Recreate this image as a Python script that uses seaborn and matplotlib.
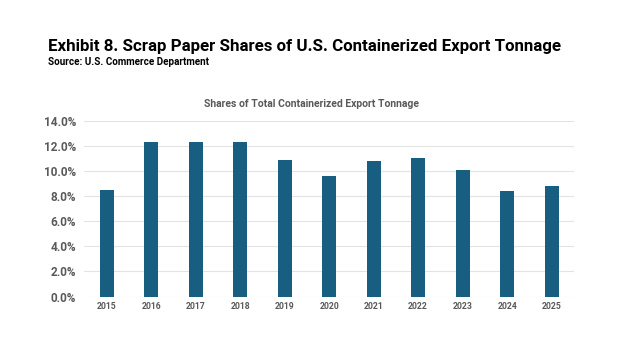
import matplotlib
matplotlib.use("Agg")
import matplotlib.pyplot as plt
import seaborn as sns
import pandas as pd
from matplotlib.ticker import PercentFormatter

years = ["2015", "2016", "2017", "2018", "2019", "2020", "2021", "2022", "2023", "2024", "2025"]
shares = [8.5, 12.3, 12.3, 12.3, 10.85, 9.65, 10.8, 11.05, 10.1, 8.45, 8.85]

title = "Exhibit 8. Scrap Paper Shares of U.S. Containerized Export Tonnage"
subtitle = "Source: U.S. Commerce Department"
chart_title = "Shares of Total Containerized Export Tonnage"

sns.set_theme(style="white")
plt.rcParams["font.family"] = ["Roboto", "DejaVu Sans"]

df = pd.DataFrame({"year": years, "share": shares})

fig = plt.figure(figsize=(6.24, 3.51), dpi=100)
ax = fig.add_axes([84.4 / 624, 1 - 296.5 / 351, 489.5 / 624, (296.5 - 121) / 351])

sns.barplot(data=df, x="year", y="share", color="#175e80", saturation=1,
            width=0.32, ax=ax, zorder=3, linewidth=0)

ax.set_ylim(0, 14)
ax.set_xlim(-0.5, 10.5)
ax.set_yticks([0, 2, 4, 6, 8, 10, 12, 14])
ax.yaxis.set_major_formatter(PercentFormatter(decimals=1))
ax.grid(axis="y", color="#e3e3e3", linewidth=0.8, zorder=0)
for s in ax.spines.values():
    s.set_visible(False)
ax.set_xlabel("")
ax.set_ylabel("")
ax.tick_params(axis="y", length=0, pad=6, labelsize=8.5, labelcolor="#595959")
ax.tick_params(axis="x", length=0, pad=4, labelsize=6.2, labelcolor="#595959")
for lab in ax.get_yticklabels() + ax.get_xticklabels():
    lab.set_fontweight("bold")

fig.text(48 / 624, 1 - 46 / 351, title, fontsize=12.15, fontweight="bold",
         color="black", ha="left", va="center")
fig.text(48 / 624, 1 - 62 / 351, subtitle, fontsize=7.1, fontweight="bold",
         color="black", ha="left", va="center")
fig.text(312 / 624, 1 - 104 / 351, chart_title, fontsize=7.5, fontweight="bold",
         color="#595959", ha="center", va="center")

fig.savefig("out.png", dpi=100, facecolor="white")
